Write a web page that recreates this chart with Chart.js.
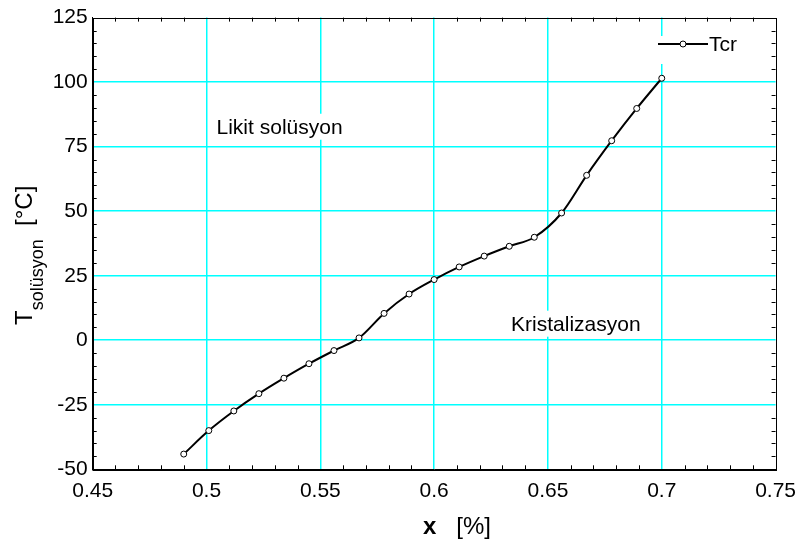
<!DOCTYPE html>
<html>
<head>
<meta charset="utf-8">
<script src="https://cdn.jsdelivr.net/npm/chart.js@4/dist/chart.umd.min.js"></script>
<style>
  html, body { margin: 0; padding: 0; background: #ffffff; }
  #wrap { width: 805px; height: 542px; }
</style>
</head>
<body>
<div id="wrap"><canvas id="c" width="805" height="542"></canvas></div>
<script>
// Concentration x [%] and critical solution temperature Tcr [°C]
const xValues = [0.490, 0.501, 0.512, 0.523, 0.534, 0.545, 0.556, 0.567, 0.578, 0.589,
                 0.600, 0.611, 0.622, 0.633, 0.644, 0.656, 0.667, 0.678, 0.689, 0.700];
const tcrValues = [-44.1, -35.0, -27.4, -20.7, -14.7, -9.1, -4.0, 0.9, 10.4, 17.9,
                   23.5, 28.4, 32.6, 36.4, 39.9, 49.3, 63.9, 77.3, 89.8, 101.5];
const seriesLabel = 'Tcr';
const xTickLabels = ['0.45', '0.5', '0.55', '0.6', '0.65', '0.7', '0.75'];
const yTickLabels = ['-50', '-25', '0', '25', '50', '75', '100', '125'];
const regionNames = ['Likit solüsyon', 'Kristalizasyon'];

const FONT = "'Liberation Sans', Arial, sans-serif";
const GRID = '#00ffff';

const points = xValues.map((v, i) => ({ x: v, y: tcrValues[i] }));

// frame, minor ticks, region names and legend drawn over the grid
const decorations = {
  id: 'decorations',
  beforeDatasetsDraw(chart) {
    const { ctx, chartArea: a, scales: { x, y } } = chart;
    ctx.save();

    // minor ticks on all four sides, pointing inwards
    ctx.strokeStyle = '#000';
    ctx.lineWidth = 1;
    ctx.beginPath();
    for (let i = 1; i < 30; i++) {
      if (i % 5 === 0) continue;
      const px = Math.round(x.getPixelForValue(0.45 + i * 0.01)) + 0.5;
      ctx.moveTo(px, a.bottom); ctx.lineTo(px, a.bottom - 4);
      ctx.moveTo(px, a.top); ctx.lineTo(px, a.top + 4);
    }
    for (let i = 1; i < 35; i++) {
      if (i % 5 === 0) continue;
      const py = Math.round(y.getPixelForValue(-50 + i * 5)) + 0.5;
      ctx.moveTo(a.left, py); ctx.lineTo(a.left + 4, py);
      ctx.moveTo(a.right, py); ctx.lineTo(a.right - 4, py);
    }
    ctx.stroke();

    // full frame
    ctx.strokeRect(Math.round(a.left) + 0.5, Math.round(a.top) + 0.5,
                   Math.round(a.width), Math.round(a.height));

    // region names on white boxes
    ctx.font = '21px ' + FONT;
    ctx.textBaseline = 'alphabetic';
    ctx.textAlign = 'left';
    const anchors = [[0.5044, 80.0], [0.6338, 3.7]];
    regionNames.forEach((name, i) => {
      const tx = x.getPixelForValue(anchors[i][0]);
      const ty = y.getPixelForValue(anchors[i][1]);
      const w = ctx.measureText(name).width;
      ctx.fillStyle = '#fff';
      ctx.fillRect(tx - 2, ty - 20, w + 4, 26);
      ctx.fillStyle = '#000';
      ctx.fillText(name, tx, ty);
    });

    // legend: line - marker - line, then label
    const ly = 44;
    const lx0 = 658, lx1 = 708;
    ctx.fillStyle = '#fff';
    ctx.fillRect(lx0 - 3, 36, 740 - lx0 + 3, 28);
    ctx.strokeStyle = '#000';
    ctx.lineWidth = 2;
    ctx.beginPath();
    ctx.moveTo(lx0, ly); ctx.lineTo(lx1, ly);
    ctx.stroke();
    ctx.beginPath();
    ctx.arc((lx0 + lx1) / 2, ly, 3, 0, Math.PI * 2);
    ctx.fillStyle = '#fff';
    ctx.fill();
    ctx.lineWidth = 1;
    ctx.stroke();
    ctx.fillStyle = '#000';
    ctx.font = '21px ' + FONT;
    ctx.fillText(chart.data.datasets[0].label, 709, 51.3);

    ctx.restore();
  },
  afterDraw(chart) {
    const { ctx } = chart;
    ctx.save();
    ctx.fillStyle = '#000';
    ctx.textBaseline = 'alphabetic';
    ctx.textAlign = 'left';

    // x axis title: bold "x" followed by unit
    ctx.font = 'bold 24px ' + FONT;
    const xw = ctx.measureText('x').width;
    ctx.fillText('x', 423, 534);
    ctx.font = '24px ' + FONT;
    ctx.fillText('   [%]', 423 + xw, 534);

    // y axis title: T with subscript, then unit
    ctx.translate(32, 325);
    ctx.rotate(-Math.PI / 2);
    ctx.font = '24px ' + FONT;
    const tw = ctx.measureText('T').width;
    ctx.fillText('T', 0, 0);
    ctx.font = '18px ' + FONT;
    const sub = 'solüsyon';
    const sw = ctx.measureText(sub).width;
    ctx.fillText(sub, tw, 11);
    ctx.font = '24px ' + FONT;
    ctx.fillText('  [°C]', tw + sw, 0);
    ctx.restore();
  }
};

const gridColor = (ctx) => {
  const s = ctx.scale;
  const v = ctx.tick ? ctx.tick.value : null;
  if (v === null || Math.abs(v - s.min) < 1e-9 || Math.abs(v - s.max) < 1e-9) return 'rgba(0,0,0,0)';
  return GRID;
};

new Chart(document.getElementById('c'), {
  type: 'scatter',
  data: {
    datasets: [{
      label: seriesLabel,
      data: points,
      showLine: true,
      borderColor: '#000',
      borderWidth: 2,
      tension: 0.4,
      cubicInterpolationMode: 'monotone',
      pointRadius: 3,
      pointBorderWidth: 1,
      pointBackgroundColor: '#fff',
      pointBorderColor: '#000',
      pointHoverRadius: 3
    }]
  },
  options: {
    responsive: false,
    animation: false,
    devicePixelRatio: 1,
    layout: { padding: { top: 16, right: 28.3, left: 0, bottom: 0 } },
    plugins: {
      legend: { display: false },
      tooltip: { enabled: false }
    },
    scales: {
      x: {
        type: 'linear',
        min: 0.45,
        max: 0.75,
        afterFit(scale) { scale.height = 72.7; },
        afterBuildTicks(scale) {
          scale.ticks = xTickLabels.map(t => ({ value: parseFloat(t) }));
        },
        ticks: {
          padding: 9,
          color: '#000',
          font: { family: FONT, size: 21 },
          maxRotation: 0,
          autoSkip: false,
          callback: (v, i) => xTickLabels[i]
        },
        grid: { color: gridColor, lineWidth: 1.5, drawTicks: false },
        border: { display: true, color: '#000', width: 1 }
      },
      y: {
        type: 'linear',
        min: -50,
        max: 125,
        afterFit(scale) { scale.width = 92.7; },
        afterBuildTicks(scale) {
          scale.ticks = yTickLabels.map(t => ({ value: parseFloat(t) }));
        },
        ticks: {
          padding: 5,
          color: '#000',
          font: { family: FONT, size: 21 },
          autoSkip: false,
          callback: (v, i) => yTickLabels[i]
        },
        grid: { color: gridColor, lineWidth: 1.5, drawTicks: false },
        border: { display: true, color: '#000', width: 1 }
      }
    }
  },
  plugins: [decorations]
});
</script>
</body>
</html>
